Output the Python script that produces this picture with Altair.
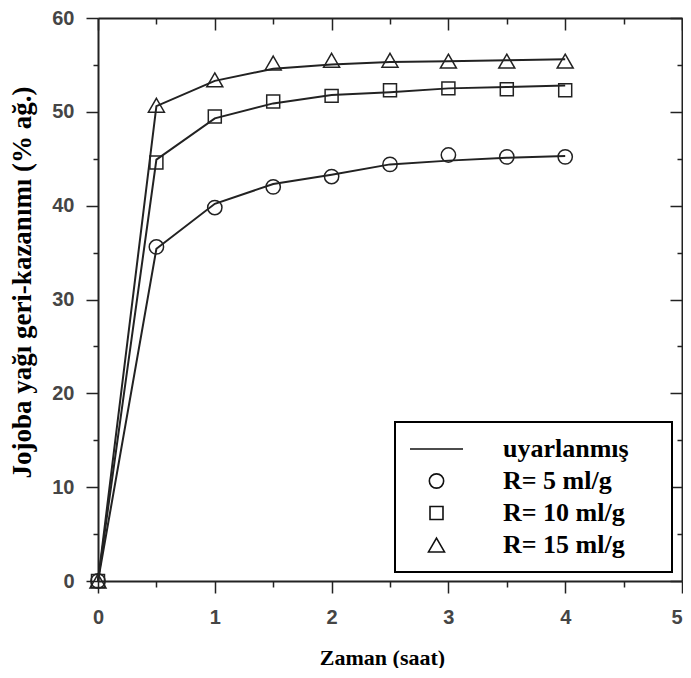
import altair as alt
import pandas as pd

# ---- data ----
times = [0, 0.5, 1, 1.5, 2, 2.5, 3, 3.5, 4]
series_names = ["R= 5 ml/g", "R= 10 ml/g", "R= 15 ml/g"]
fit_label = "uyarlanmış"

obs_r5 = [0, 35.6, 39.8, 42.0, 43.1, 44.4, 45.4, 45.2, 45.2]
obs_r10 = [0, 44.6, 49.5, 51.1, 51.7, 52.3, 52.5, 52.4, 52.3]
obs_r15 = [0, 50.7, 53.4, 55.2, 55.5, 55.5, 55.4, 55.4, 55.4]

fit_r5 = [0, 35.4, 40.2, 42.3, 43.3, 44.4, 44.8, 45.1, 45.3]
fit_r10 = [0, 44.9, 49.3, 50.9, 51.8, 52.1, 52.5, 52.65, 52.8]
fit_r15 = [0, 50.6, 53.3, 54.6, 55.05, 55.3, 55.4, 55.5, 55.6]

x_ticks = [0, 0.5, 1, 1.5, 2, 2.5, 3, 3.5, 4, 4.5, 5]
y_ticks = [0, 5, 10, 15, 20, 25, 30, 35, 40, 45, 50, 55, 60]


def build(vals_list):
    rows = []
    for name, vals in zip(series_names, vals_list):
        for t, v in zip(times, vals):
            rows.append({"t": t, "v": v, "series": name})
    return pd.DataFrame(rows)


obs_df = build([obs_r5, obs_r10, obs_r15])
fit_df = build([fit_r5, fit_r10, fit_r15])

W, H = 584, 563
INK = "#222222"
SANS = "Liberation Sans"
SERIF = "Liberation Serif"

x_scale = alt.Scale(domain=[0, 5], nice=False, zero=False)
y_scale = alt.Scale(domain=[0, 60], nice=False, zero=False)

x_tick_size = {"condition": {"test": "datum.value % 1 === 0", "value": 12}, "value": 6}
y_tick_size = {"condition": {"test": "datum.value % 10 === 0", "value": 12}, "value": 5}

# symbols: unit size chosen so that the "stroke" spans the legend line length
line_path = "M-1,0L1,0"
circle_path = "M0.27,0A0.27,0.27,0,1,1,-0.27,0A0.27,0.27,0,1,1,0.27,0Z"
square_path = "M-0.245,-0.245L0.245,-0.245L0.245,0.245L-0.245,0.245Z"
tri_path = "M0,-0.262L0.302,0.262L-0.302,0.262Z"
SYM = 2809

x_main = alt.Axis(
    orient="bottom", values=x_ticks,
    labelExpr="datum.value % 1 === 0 ? format(datum.value, 'd') : ''",
    labelAlign={"condition": {"test": "datum.value === 5", "value": "right"}, "value": "center"},
    tickSize=x_tick_size, labelPadding=14, labelFlush=False, labelOverlap=False,
    title="Zaman (saat)", titleX=284, titleY=76, titleBaseline="middle", titleAlign="center",
    titleFontSize=22,
)
y_main = alt.Axis(
    orient="left", values=y_ticks,
    labelExpr="datum.value % 10 === 0 ? format(datum.value, 'd') : ''",
    tickSize=y_tick_size, labelPadding=12, labelFlush=False, labelOverlap=False,
    title="Jojoba yağı geri-kazanımı (% ağ.)", titleX=-76, titleY=264, titleAngle=270,
    titleBaseline="middle", titleAlign="center", titleFontSize=27,
)
x_top = alt.Axis(orient="bottom", offset=-H, values=x_ticks, labels=False, title="",
                 tickSize=x_tick_size)
y_right = alt.Axis(orient="left", offset=-W, values=y_ticks, labels=False, title="",
                   tickSize=y_tick_size)

lines = alt.Chart(fit_df).mark_line(color=INK, strokeWidth=2, clip=False).encode(
    x=alt.X("t:Q", scale=x_scale, axis=x_main),
    y=alt.Y("v:Q", scale=y_scale, axis=y_main),
    detail="series:N",
)

points = alt.Chart(obs_df).mark_point(
    size=SYM, filled=False, stroke=INK, strokeWidth=1.5, opacity=1, clip=False
).encode(
    x=alt.X("t:Q", scale=x_scale, axis=x_top),
    y=alt.Y("v:Q", scale=y_scale, axis=y_right),
    shape=alt.Shape(
        "series:N",
        scale=alt.Scale(domain=[fit_label] + series_names,
                        range=[line_path, circle_path, square_path, tri_path]),
        legend=alt.Legend(
            title=".", titleOrient="right", titlePadding=28, titleOpacity=0, titleFontSize=2,
            orient="none", legendX=297, legendY=404,
            strokeColor="black", padding=14, fillColor="white",
            symbolSize=SYM, symbolStrokeColor="#111111", symbolFillColor="transparent",
            symbolStrokeWidth=1.6, clipHeight=26, rowPadding=6,
            labelFont=SERIF, labelFontWeight="bold", labelFontSize=26, labelColor="black",
            labelOffset=39, labelLimit=400,
        ),
    ),
)

chart = alt.layer(lines, points).resolve_axis(
    x="independent", y="independent"
).properties(
    width=W, height=H,
    autosize=alt.AutoSizeParams(type="none"),
    padding={"left": 90, "top": 10, "right": 1, "bottom": 87},
).configure_view(
    stroke=None
).configure_axis(
    grid=False, domainColor=INK, domainWidth=2, tickColor=INK, tickWidth=1.5,
    labelFont=SANS, labelFontSize=20, labelFontWeight="bold", labelColor="#454545",
    titleFont=SERIF, titleFontWeight="bold", titleColor="black",
).configure_legend(
    strokeWidth=2
)

chart.save("out.html", embed_options={"renderer": "svg", "actions": False})
